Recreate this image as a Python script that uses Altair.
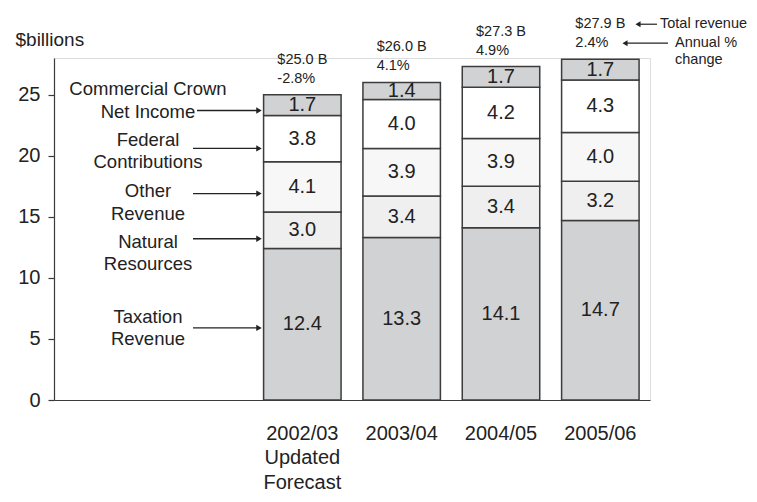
import altair as alt
import pandas as pd

# ---- data ----
years = ["2002/03|Updated|Forecast", "2003/04", "2004/05", "2005/06"]
sources = ["Taxation Revenue", "Natural Resources", "Other Revenue",
           "Federal Contributions", "Commercial Crown Net Income"]
taxation = [12.4, 13.3, 14.1, 14.7]
natural = [3.0, 3.4, 3.4, 3.2]
other = [4.1, 3.9, 3.9, 4.0]
federal = [3.8, 4.0, 4.2, 4.3]
commercial = [1.7, 1.4, 1.7, 1.7]
total_text = ["$25.0 B", "$26.0 B", "$27.3 B", "$27.9 B"]
change_text = ["-2.8%", "4.1%", "4.9%", "2.4%"]

# left-side category annotations (first-line level and arrow level, in $billions)
ann_text = ["Commercial Crown\nNet Income", "Federal\nContributions", "Other\nRevenue",
            "Natural\nResources", "Taxation\nRevenue"]
ann_label_y = [25.45, 21.3, 17.1, 12.95, 6.8]
ann_arrow_y = [23.7, 20.6, 16.9, 13.2, 5.9]
ann_inline = [1, 0, 0, 0, 0]   # arrow follows the text on the same line

# ---- build tables ----
series = [taxation, natural, other, federal, commercial]
rows = []
for i, yr in enumerate(years):
    base = 0.0
    for k, src in enumerate(sources):
        v = series[k][i]
        rows.append({"year": yr, "source": src, "order": k, "val": v,
                     "y0": base, "y1": base + v, "mid": base + v / 2})
        base += v
bars_df = pd.DataFrame(rows)

totals = [sum(s[i] for s in series) for i in range(len(years))]
tot_df = pd.DataFrame({"year": years, "total": totals,
                       "ttext": total_text, "ctext": change_text})
ann_df = pd.DataFrame({"text": ann_text, "ly": ann_label_y, "ay": ann_arrow_y,
                       "inline": ann_inline})
leg_df = pd.DataFrame({"total": [totals[-1]]})

FONT = "Liberation Sans"
TXT = "#222222"
AX = "#3a3a3a"

domain6 = ["_1", "_2"] + years
xscale = alt.Scale(domain=domain6, paddingInner=0.22, paddingOuter=0.11)
yscale = alt.Scale(domain=[0, 28], nice=False, zero=True)

xaxis = alt.Axis(title=None, ticks=False, labelAngle=0, labelFontSize=20,
                 labelPadding=23, labelLineHeight=24.5, labelBaseline="top",
                 labelOverlap=False, labelColor=TXT, labelFont=FONT,
                 domainColor=AX, domainWidth=1.2,
                 labelExpr="indexof(datum.value, '_') == 0 ? '' : split(datum.value, '|')")
yaxis = alt.Axis(values=[0, 5, 10, 15, 20, 25], grid=False, tickSize=6,
                 labelFontSize=20, labelPadding=8, labelColor=TXT, labelFont=FONT,
                 domainColor=AX, tickColor=AX, domainWidth=1.2, tickWidth=1.2,
                 title="$billions", titleAngle=0, titleAlign="left",
                 titleBaseline="middle", titleX=-39, titleY=-19,
                 titleFontSize=19, titleFontWeight="normal",
                 titleFont=FONT, titleColor=TXT)


def X():
    return alt.X("year:N", scale=xscale, sort=domain6, axis=xaxis)


def Y(field):
    return alt.Y(field, scale=yscale, axis=yaxis)


bars = alt.Chart(bars_df).mark_bar(stroke="#3c3c3c", strokeWidth=1.5).encode(
    x=X(),
    y=Y("y0:Q"),
    y2="y1:Q",
    color=alt.Color("source:N", legend=None,
                    scale=alt.Scale(domain=sources,
                                    range=["#d1d2d4", "#efeff0", "#f7f7f7", "#ffffff", "#d1d2d4"])),
    order="order:Q",
)

vals = alt.Chart(bars_df).mark_text(fontSize=20, font=FONT, color=TXT, baseline="middle").encode(
    x=X(), y=Y("mid:Q"),
    text=alt.Text("val:Q", format=".1f"),
)

tot_lbl = alt.Chart(tot_df).mark_text(fontSize=14.5, font=FONT, color=TXT, align="left",
                                      baseline="middle", dx=-25, dy=-35).encode(
    x=X(), y=Y("total:Q"), text="ttext:N",
)
chg_lbl = alt.Chart(tot_df).mark_text(fontSize=14.5, font=FONT, color=TXT, align="left",
                                      baseline="middle", dx=-25, dy=-16).encode(
    x=X(), y=Y("total:Q"), text="ctext:N",
)

ann_lbl = alt.Chart(ann_df).mark_text(fontSize=18.5, font=FONT, color=TXT, align="center",
                                      baseline="middle", lineBreak="\n", lineHeight=22.5).encode(
    x=alt.value(94), y=Y("ly:Q"), text="text:N",
)
ann_rule_a = alt.Chart(ann_df).transform_filter("datum.inline == 0").mark_rule(
    color=TXT, strokeWidth=1.3).encode(
    x=alt.value(139), x2=alt.value(203), y=Y("ay:Q"),
)
ann_rule_b = alt.Chart(ann_df).transform_filter("datum.inline == 1").mark_rule(
    color=TXT, strokeWidth=1.3).encode(
    x=alt.value(143), x2=alt.value(203), y=Y("ay:Q"),
)
ann_head = alt.Chart(ann_df).mark_point(shape="triangle-right", filled=True, size=40,
                                        color=TXT, opacity=1).encode(
    x=alt.value(205), y=Y("ay:Q"),
)

# top-right key
leg_t1 = alt.Chart(leg_df).mark_text(fontSize=14.5, font=FONT, color=TXT, align="left",
                                     baseline="middle", dy=-35, text="Total revenue").encode(
    x=alt.value(606), y=Y("total:Q"))
leg_t2 = alt.Chart(leg_df).mark_text(fontSize=14.5, font=FONT, color=TXT, align="left",
                                     baseline="middle", dy=-16, text="Annual %").encode(
    x=alt.value(621), y=Y("total:Q"))
leg_t3 = alt.Chart(leg_df).mark_text(fontSize=14.5, font=FONT, color=TXT, align="left",
                                     baseline="middle", dy=1, text="change").encode(
    x=alt.value(621), y=Y("total:Q"))
leg_r1 = alt.Chart(leg_df).mark_rule(color=TXT, strokeWidth=1.2, yOffset=-35).encode(
    x=alt.value(586), x2=alt.value(603), y=Y("total:Q"))
leg_h1 = alt.Chart(leg_df).mark_point(shape="triangle-left", filled=True, size=35, color=TXT,
                                      opacity=1, yOffset=-35).encode(
    x=alt.value(584), y=Y("total:Q"))
leg_r2 = alt.Chart(leg_df).mark_rule(color=TXT, strokeWidth=1.2, yOffset=-16).encode(
    x=alt.value(573), x2=alt.value(614), y=Y("total:Q"))
leg_h2 = alt.Chart(leg_df).mark_point(shape="triangle-left", filled=True, size=35, color=TXT,
                                      opacity=1, yOffset=-16).encode(
    x=alt.value(571), y=Y("total:Q"))

chart = alt.layer(
    bars, vals, tot_lbl, chg_lbl, ann_lbl, ann_rule_a, ann_rule_b, ann_head,
    leg_t1, leg_t2, leg_t3, leg_r1, leg_h1, leg_r2, leg_h2,
).properties(
    width=596, height=342,
    autosize=alt.AutoSizeParams(type="none"),
    padding={"left": 46, "top": 50, "right": 99, "bottom": 94},
).configure_view(stroke=None).configure(font=FONT)

chart.save("out.html", embed_options={"renderer": "svg", "actions": False})
